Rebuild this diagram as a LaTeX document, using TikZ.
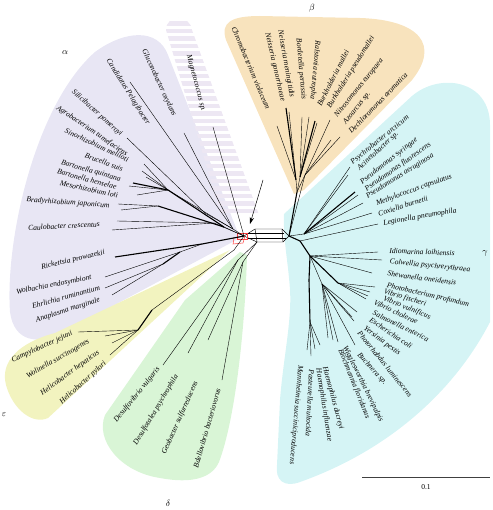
\documentclass[tikz,border=0pt]{standalone}
\usepackage{fontspec}
\setmainfont{Liberation Serif}
\usepackage{xcolor}
\usetikzlibrary{arrows.meta}

\definecolor{alphabg}{HTML}{E8E6F4}
\definecolor{betabg}{HTML}{F8E3BD}
\definecolor{gammabg}{HTML}{D5F4F5}
\definecolor{deltabg}{HTML}{D9F5D6}
\definecolor{epsbg}{HTML}{F2F3BF}
\definecolor{magbg}{HTML}{EDE7F3}

\begin{document}
\begin{tikzpicture}[x=1pt, y=-1pt,
  taxon/.style={font=\fontsize{7.6}{9}\selectfont\itshape, inner sep=0pt},
  grp/.style={font=\fontsize{9}{10}\selectfont, inner sep=0pt},
  br/.style={line width=0.4pt},
  bundle/.style={line width=1.1pt},
  hub/.style={line width=0.45pt},
  arr/.style={-{Stealth[length=2.4mm,width=1.5mm]}, line width=0.5pt}
]
\useasboundingbox (0,0) rectangle (492,510);

% coloured groups
\fill[alphabg] (240,238) -- (168,55) .. controls (158,28) and (125,30) .. (95,52)
  .. controls (35,105) and (5,240) .. (10,312) .. controls (14,342) and (38,345) .. (62,333) -- cycle;
\begin{scope}
  \clip (166,30) .. controls (166,14) and (190,14) .. (192,30) -- (259,215) -- (221,215) -- cycle;
  \foreach \y in {14,21.5,...,214}
    \fill[magbg] (150,\y) rectangle (270,\y+4.2);
\end{scope}
\fill[betabg] (294,194) -- (226,40) .. controls (220,22) and (232,16) .. (260,16)
  -- (360,18) .. controls (420,20) and (440,45) .. (412,80) -- (304,190) -- cycle;
\fill[gammabg] (284,214) -- (412,96) .. controls (440,72) and (490,80) .. (490,125)
  -- (490,322) .. controls (455,390) and (390,450) .. (300,482)
  .. controls (284,488) and (275,480) .. (277,465) -- (280,400)
  .. controls (283,360) and (292,320) .. (290,290) .. controls (288,260) and (283,240) .. (284,214) -- cycle;
\fill[epsbg] (230,250) -- (55,333) .. controls (18,343) and (0,362) .. (6,385)
  .. controls (13,410) and (33,425) .. (48,418) -- cycle;
\fill[deltabg] (240,252) -- (185,300) -- (105,415) .. controls (95,440) and (120,472) .. (160,478)
  .. controls (192,484) and (212,478) .. (219,462) .. controls (235,420) and (245,330) .. (247,255) -- cycle;

% centre of the network
\coordinate (ha) at (244,236);
\coordinate (hb) at (289,236);
\coordinate (c1) at (255,229);
\coordinate (c2) at (282,229);
\coordinate (c3) at (257,242);
\coordinate (c4) at (283,242);
\draw[hub] (ha) -- (c1) -- (c2) -- (hb) -- (c4) -- (c3) -- (ha);
\draw[hub] (c1) -- (c3);
\draw[hub] (c2) -- (c4);
\draw[hub] (247,233) -- (284,233);
\draw[hub] (248,238) -- (286,238);
\draw[red!75, line width=0.5pt] (237,233) rectangle (247,239);
\draw[red!75, line width=0.5pt] (234,238) -- (245,236) -- (243,243) -- (233,244) -- cycle;

% alpha
\coordinate (glu) at (184,133);
\coordinate (cpe) at (130,82);
\coordinate (sil) at (127,138);
\coordinate (agr) at (144,164);
\coordinate (sin) at (142,171);
\coordinate (bru) at (146,177);
\coordinate (bqu) at (133,183);
\coordinate (bhe) at (129,186);
\coordinate (mes) at (137,195);
\coordinate (brj) at (118,204);
\coordinate (brk) at (121,210);
\coordinate (cau) at (117,221);
\coordinate (cax) at (112,230);
\coordinate (mag) at (213,127);
\coordinate (ric) at (115,257);
\coordinate (wol) at (105,277);
\coordinate (ehr) at (105,288);
\coordinate (ana) at (112,295);
\coordinate (arh) at (168,190);
\coordinate (abr) at (158,206);
\coordinate (a2) at (224,227);
\coordinate (a3) at (214,223);
\coordinate (a4) at (233,229);
\coordinate (a5) at (205,213);
\coordinate (ar1) at (202,244);
\coordinate (ar2) at (180,252);
\coordinate (ar3) at (163,264);
\draw[br] (agr) -- (arh);
\draw[br] (sin) -- (arh);
\draw[br] (bru) -- (arh);
\draw[bundle] (bqu) -- (arh);
\draw[br] (bhe) -- (arh);
\draw[br] (mes) -- (arh);
\draw[bundle] (arh) -- (a2);
\draw[br] (arh) -- (a4);
\draw[br] (brj) -- (abr);
\draw[br] (brk) -- (abr);
\draw[bundle] (abr) -- (a2);
\draw[br] (cau) -- (a3);
\draw[br] (cax) -- (a3);
\draw[br] (a3) -- (ha);
\draw[br] (sil) -- (a5);
\draw[br] (a5) -- (a4);
\draw[br] (glu) -- (a4);
\draw[br] (cpe) -- (a4);
\draw[br] (a2) -- (ha);
\draw[br] (a4) -- (ha);
\draw[br] (mag) -- (ha);
\draw[bundle] (ric) -- (ar1);
\draw[br] (wol) -- (ar2);
\draw[br] (ehr) -- (ar3);
\draw[br] (ana) -- (ar3);
\draw[bundle] (ar3) -- (ar2);
\draw[br] (ar2) -- (ar1);
\draw[bundle] (ar1) -- (ha);

% beta
\coordinate (chr) at (277,126);
\coordinate (ngo) at (286,108);
\coordinate (nme) at (289,112);
\coordinate (bor) at (302,117);
\coordinate (ral) at (309,117);
\coordinate (bma) at (315,121);
\coordinate (bps) at (317,123);
\coordinate (nit) at (330,120);
\coordinate (azo) at (331,140);
\coordinate (dec) at (340,137);
\coordinate (b1) at (296,180);
\coordinate (b2) at (300,177);
\coordinate (b3) at (305,175);
\coordinate (b0) at (297,192);
\draw[br] (chr) -- (b1);
\draw[bundle] (ngo) -- (b1);
\draw[br] (nme) -- (b1);
\draw[br] (bor) -- (b2);
\draw[br] (ral) -- (b2);
\draw[bundle] (bma) -- (b2);
\draw[br] (bps) -- (b2);
\draw[br] (nit) -- (b3);
\draw[br] (azo) -- (b3);
\draw[br] (dec) -- (b3);
\draw[br] (b1) -- (b0);
\draw[br] (b2) -- (b0);
\draw[br] (b3) -- (b0);
\draw[bundle] (b0) -- (hb);
\draw[br] (b3) -- (hb);

% gamma
\coordinate (psy) at (350,167);
\coordinate (aci) at (348,175);
\coordinate (psa) at (355,192);
\coordinate (psb) at (358,195);
\coordinate (met) at (363,203);
\coordinate (cox) at (372,213);
\coordinate (leg) at (378,224);
\coordinate (idi) at (378,252);
\coordinate (col) at (382,260);
\coordinate (she) at (372,273);
\coordinate (pho) at (375,287);
\coordinate (vfi) at (370,292);
\coordinate (vvu) at (368,296);
\coordinate (vch) at (366,299);
\coordinate (sal) at (357,312);
\coordinate (eco) at (352,317);
\coordinate (yer) at (354,321);
\coordinate (phl) at (355,345);
\coordinate (buc) at (338,342);
\coordinate (wig) at (328,338);
\coordinate (blo) at (333,340);
\coordinate (hdu) at (320,345);
\coordinate (hin) at (315,349);
\coordinate (pas) at (311,356);
\coordinate (man) at (307,350);
\coordinate (g0) at (300,241);
\coordinate (gu) at (304,234);
\coordinate (gl) at (310,256);
\coordinate (gv) at (338,283);
\coordinate (ge) at (322,284);
\coordinate (gh) at (309,280);
\coordinate (gx) at (310,322);
\draw[bundle] (hb) -- (g0);
\draw[br] (hb) -- (gu);
\draw[br] (psy) -- (gu);
\draw[br] (aci) -- (gu);
\draw[bundle] (psa) -- (gu);
\draw[br] (psb) -- (gu);
\draw[br] (met) -- (gu);
\draw[br] (cox) -- (gu);
\draw[br] (leg) -- (g0);
\draw[bundle] (g0) -- (gl);
\draw[br] (idi) -- (gl);
\draw[br] (col) -- (gl);
\draw[br] (she) -- (gl);
\draw[bundle] (gl) -- (gv);
\draw[br] (pho) -- (gv);
\draw[br] (vfi) -- (gv);
\draw[br] (vvu) -- (gv);
\draw[br] (vch) -- (gv);
\draw[br] (gl) -- (ge);
\draw[br] (sal) -- (ge);
\draw[br] (eco) -- (ge);
\draw[br] (yer) -- (ge);
\draw[br] (phl) -- (ge);
\draw[br] (buc) -- (ge);
\draw[br] (wig) -- (ge);
\draw[br] (blo) -- (ge);
\draw[bundle] (gl) -- (gh);
\draw[bundle] (gh) -- (gx);
\draw[br] (hdu) -- (gx);
\draw[br] (hin) -- (gx);
\draw[br] (pas) -- (gx);
\draw[br] (man) -- (gx);

% delta
\coordinate (dvu) at (163,365);
\coordinate (dps) at (188,353);
\coordinate (geo) at (208,340);
\coordinate (bde) at (222,380);
\coordinate (d1) at (238,260);
\coordinate (d2) at (243,262);
\draw[br] (dvu) -- (d1);
\draw[br] (dps) -- (d1);
\draw[br] (geo) -- (d2);
\draw[br] (bde) -- (d2);
\draw[br] (d1) -- (c3);
\draw[br] (d2) -- (c3);

% epsilon
\coordinate (cje) at (78,332);
\coordinate (wsu) at (105,336);
\coordinate (hhe) at (112,343);
\coordinate (hpy) at (110,355);
\coordinate (e2) at (138,330);
\coordinate (e1) at (152,310);
\coordinate (e0) at (234,250);
\draw[br] (cje) -- (e2);
\draw[br] (wsu) -- (e2);
\draw[br] (hhe) -- (e2);
\draw[br] (hpy) -- (e2);
\draw[bundle] (e2) -- (e1);
\draw[br] (e1) -- (e0);
\draw[br] (e0) -- (ha);

% taxa, alpha
\node[taxon, rotate=-65] (lglu) at (159,83) {Gluconobacter oxydans};
\node[taxon, rotate=-58] (lcpe) at (128,92) {Candidatus Pelagibacter};
\node[taxon, rotate=-42] (lsil) at (97,113) {Silicibacter pomeroyi};
\node[taxon, rotate=-34] (lagr) at (92,131) {Agrobacterium tumefaciens};
\node[taxon, rotate=-25] (lsin) at (97,145) {Sinorhizobium meliloti};
\node[taxon, rotate=-20] (lbru) at (104,162) {Brucella suis};
\node[taxon, rotate=-16] (lbqu) at (91,171) {Bartonella quintana};
\node[taxon, rotate=-15] (lbhe) at (87,179) {Bartonella henselae};
\node[taxon, rotate=-12] (lmes) at (89,189) {Mesorhizobium loti};
\node[taxon, rotate=-4] (lbrj) at (68,203) {Bradyrhizobium japonicum};
\node[taxon, rotate=3] (lcau) at (64,226) {Caulobacter crescentus};
\node[taxon, rotate=13] (lric) at (73,260) {Rickettsia prowazekii};
\node[taxon, rotate=11] (lwol) at (54,285) {Wolbachia endosymbiont};
\node[taxon, rotate=15] (lehr) at (66,297) {Ehrlichia ruminantium};
\node[taxon, rotate=18] (lana) at (68,310) {Anaplasma marginale};
\node[taxon, rotate=-75] (lmag) at (196,83) {Magnetococcus sp.};

% taxa, beta
\node[taxon, rotate=-67] (lchr) at (251,68) {Chromobacterium violaceum};
\node[taxon, rotate=-77] (lngo) at (275,67) {Neisseria gonorrhoeae};
\node[taxon, rotate=-80] (lnme) at (286,64) {Neisseria meningitidis};
\node[taxon, rotate=-85] (lbor) at (301,69) {Bordetella pertussis};
\node[taxon, rotate=-95] (lral) at (315,70) {Ralstonia eutropha};
\node[taxon, rotate=63] (lbma) at (333,78) {Burkholderia mallei};
\node[taxon, rotate=58] (lbps) at (351,72) {Burkholderia pseudomallei};
\node[taxon, rotate=51] (lnit) at (359,88) {Nitrosomonas europaea};
\node[taxon, rotate=51] (lazo) at (357,108) {Azoarcus sp.};
\node[taxon, rotate=46] (ldec) at (378,103) {Dechloromonas aromatica};

% taxa, gamma
\node[taxon, rotate=39] (lpsy) at (380,140) {Psychrobacter arcticum};
\node[taxon, rotate=43] (laci) at (378,151) {Acinetobacter sp.};
\node[taxon, rotate=38] (lpsa) at (389,161) {Pseudomonas syringae};
\node[taxon, rotate=35] (lpsb) at (398,167) {Pseudomonas fluorescens};
\node[taxon, rotate=32] (lpsc) at (400,176) {Pseudomonas aeruginosa};
\node[taxon, rotate=20] (lmet) at (414,190) {Methylococcus capsulatus};
\node[taxon, rotate=18] (lcox) at (403,206) {Coxiella burnetii};
\node[taxon, rotate=10] (lleg) at (420,217) {Legionella pneumophila};
\node[taxon, rotate=-2] (lidi) at (422,252) {Idiomarina loihiensis};
\node[taxon, rotate=-6] (lcol) at (430,266) {Colwellia psychrerythraea};
\node[taxon, rotate=-8] (lshe) at (422,278) {Shewanella oneidensis};
\node[taxon, rotate=-13] (lpho) at (428,295) {Photobacterium profundum};
\node[taxon, rotate=-17] (lvfi) at (405,298) {Vibrio fischeri};
\node[taxon, rotate=-22] (lvvu) at (407,308) {Vibrio vulnificus};
\node[taxon, rotate=-25] (lvch) at (396,312) {Vibrio cholerae};
\node[taxon, rotate=-26] (lsal) at (401,326) {Salmonella enterica};
\node[taxon, rotate=-34] (leco) at (391,333) {Escherichia coli};
\node[taxon, rotate=-37] (lyer) at (382,341) {Yersinia pestis};
\node[taxon, rotate=-51] (lphl) at (385,364) {Photorhabdus luminescens};
\node[taxon, rotate=-48] (lbuc) at (372,369) {Buchnera sp.};
\node[taxon, rotate=-64] (lwig) at (363,384) {Wigglesworthia brevipalpis};
\node[taxon, rotate=-68] (lblo) at (354,384) {Blochmannia floridanus};
\node[taxon, rotate=-75] (lhdu) at (333,398) {Haemophilus ducreyi};
\node[taxon, rotate=-81] (lhin) at (324,405) {Haemophilus influenzae};
\node[taxon, rotate=-93] (lpas) at (310,403) {Pasteurella multocida};
\node[taxon, rotate=-95] (lman) at (296,415) {Mannheimia succiniciproducens};

% taxa, delta
\node[taxon, rotate=51] (ldvu) at (137,395) {Desulfovibrio vulgaris};
\node[taxon, rotate=59] (ldps) at (156,410) {Desulfotalea psychrophila};
\node[taxon, rotate=66] (lgeo) at (180,418) {Geobacter sulfurreducens};
\node[taxon, rotate=74] (lbde) at (207,428) {Bdellovibrio bacteriovorus};

% taxa, epsilon
\node[taxon, rotate=25] (lcje) at (42,347) {Campylobacter jejuni};
\node[taxon, rotate=30] (lwsu) at (58,359) {Wolinella succinogenes};
\node[taxon, rotate=36] (lhhe) at (70,373) {Helicobacter hepaticus};
\node[taxon, rotate=42] (lhpy) at (83,383) {Helicobacter pylori};

% group letters
\node[grp] (galpha) at (65,53) {$\alpha$};
\node[grp] (gbeta) at (312,8) {$\beta$};
\node[grp] (ggamma) at (485,253) {$\gamma$};
\node[grp] (gdelta) at (168,503) {$\delta$};
\node[grp] (geps) at (4,415) {$\varepsilon$};

% root arrow and scale
\coordinate (arrs) at (263,180);
\coordinate (arrt) at (250,224);
\draw[arr] (arrs) -- (arrt);
\coordinate (sbl) at (362,477);
\coordinate (sbr) at (490,477);
\draw[line width=0.6pt, black!75] (sbl) -- (sbr);
\node[font=\fontsize{7.5}{9}\selectfont, inner sep=0pt] (scale) at (426,487) {0.1};
\end{tikzpicture}
\end{document}
